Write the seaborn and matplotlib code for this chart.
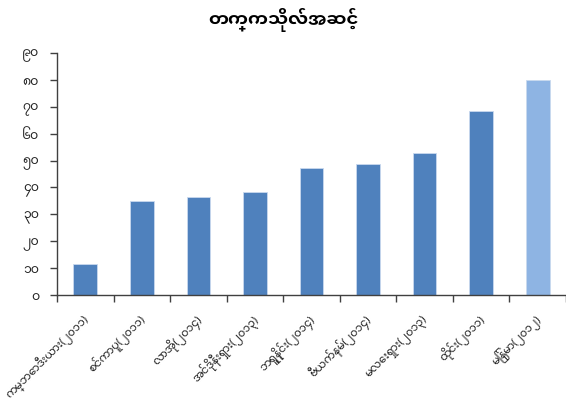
import matplotlib
matplotlib.use("Agg")
import os
import matplotlib.pyplot as plt
from matplotlib import font_manager
from matplotlib.font_manager import FontProperties
from matplotlib.ft2font import FT2Font
from matplotlib.ticker import FixedLocator
import seaborn as sns
import pandas as pd

# University ranking by country (year)
categories = [
    "ကမ္ဘောဒီးယား(၂၀၁၁)",
    "စင်ကာပူ(၂၀၁၁)",
    "လာအို(၂၀၁၄)",
    "အင်ဒိုနီးရှား(၂၀၁၃)",
    "ဘရူနိုင်း(၂၀၁၄)",
    "ဗီယက်နမ်(၂၀၁၄)",
    "မလေးရှား(၂၀၁၃)",
    "ထိုင်း(၂၀၁၁)",
    "မြန်မာ(၂၀၁၂)",
]
values = [11.6, 34.9, 36.3, 38.3, 47.3, 48.9, 52.7, 68.5, 80.1]
highlight = [False] * 8 + [True]
y_ticks = [0, 10, 20, 30, 40, 50, 60, 70, 80, 90]
y_tick_labels = ["၀", "၁၀", "၂၀", "၃၀", "၄၀", "၅၀", "၆၀", "၇၀", "၈၀", "၉၀"]
title = "တက္ကသိုလ်အဆင့်"


def myanmar_font_paths():
    paths = {}
    for path in font_manager.findSystemFonts():
        try:
            cmap = FT2Font(path).get_charmap()
        except Exception:
            continue
        if 0x1000 in cmap:
            paths[os.path.basename(path)] = path
    return paths


def pick(paths, preferred):
    for name in preferred:
        if name in paths:
            return paths[name]
    return next(iter(paths.values()), None)


fonts = myanmar_font_paths()
text_path = pick(fonts, ["NotoSansMyanmar[wdth,wght].ttf", "NotoSansMyanmar-Regular.ttf",
                         "NotoSansMyanmarUI-Regular.ttf", "Khyay-Regular.ttf"])
title_path = pick(fonts, ["NotoSansMyanmar-Bold.ttf", "NotoSansMyanmarUI-Bold.ttf",
                          "NotoSansMyanmarUI-Black.ttf", "NotoSerifMyanmar-Bold.ttf",
                          "Khyay-Regular.ttf"])


def fp(path, size):
    if path is None:
        return FontProperties(family=["DejaVu Sans"], size=size)
    return FontProperties(fname=path, size=size)


sns.set_theme(style="white")
plt.rcParams["font.family"] = ["DejaVu Sans"]

df = pd.DataFrame({"category": categories, "value": values,
                   "group": ["hi" if h else "base" for h in highlight]})

fig = plt.figure(figsize=(5.66, 4.05), dpi=100)
ax = fig.add_axes([57 / 566, 1 - 295 / 405, 509 / 566, 242 / 405])

sns.barplot(data=df, x="category", y="value", hue="group",
            palette={"base": "#4F81BD", "hi": "#8EB4E3"}, saturation=1,
            width=0.42, dodge=False, legend=False, ax=ax,
            edgecolor="#C9D9EE", linewidth=0.6)

ax.set_ylim(0, 90)
ax.set_xlim(-0.5, len(categories) - 0.5)
ax.set_yticks(y_ticks)
ax.set_yticklabels(y_tick_labels)
for lbl in ax.get_yticklabels():
    lbl.set_fontproperties(fp(text_path, 9))
    lbl.set_color("#222222")
ax.set_xticks(range(len(categories)))
ax.set_xticklabels(categories, rotation=45, ha="right", va="center_baseline",
                   rotation_mode="anchor")
for lbl in ax.get_xticklabels():
    lbl.set_fontproperties(fp(text_path, 8))
    lbl.set_color("#222222")
ax.xaxis.set_minor_locator(FixedLocator([i - 0.5 for i in range(len(categories) + 1)]))
ax.tick_params(axis="x", which="major", length=0, pad=15)
ax.tick_params(axis="x", which="minor", length=5, width=1, color="#404040",
               direction="out", bottom=True)
ax.tick_params(axis="y", length=5, width=1, color="#404040",
               direction="out", left=True, pad=8)
ax.set_xlabel("")
ax.set_ylabel("")

for side in ("top", "right"):
    ax.spines[side].set_visible(False)
for side in ("left", "bottom"):
    ax.spines[side].set_color("#404040")
    ax.spines[side].set_linewidth(1)

fig.text(0.5, 1 - 20 / 405, title, ha="center", va="center",
         fontproperties=fp(title_path, 13), color="#000000")

fig.savefig("out.png", dpi=100)
